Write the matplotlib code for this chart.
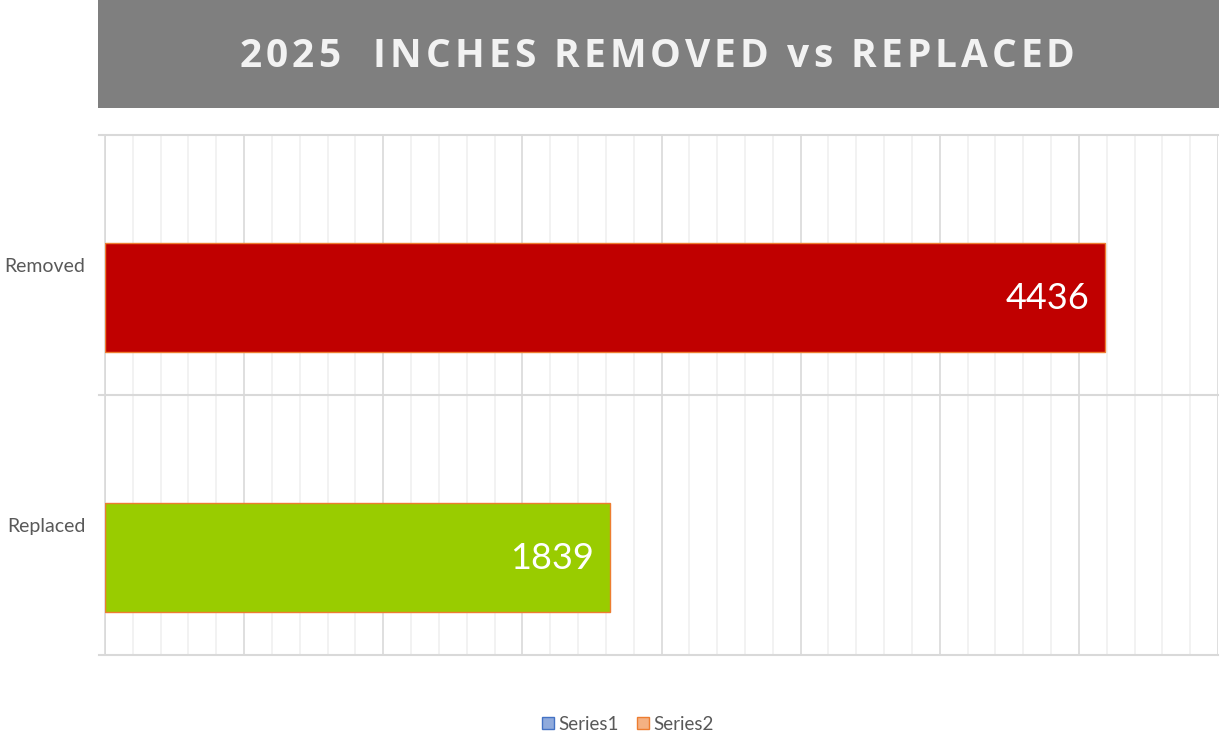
import matplotlib
matplotlib.use("Agg")
import matplotlib.pyplot as plt
from matplotlib.patches import Rectangle
from matplotlib.ticker import MultipleLocator
from matplotlib.font_manager import FontProperties

# 数据（横轴单位：一格主网格）
categories = ["Replaced", "Removed"]
bar_length = [3.63, 7.19]
value_labels = ["1839", "4436"]
bar_colors = ["#99cc00", "#c00000"]
legend_names = ["Series1", "Series2"]

title = "2025  INCHES REMOVED vs REPLACED"

W, H = 1223, 737
fig = plt.figure(figsize=(W / 100, H / 100), dpi=100)
plt.rcParams['font.family'] = ['Lato', 'DejaVu Sans']

# 标题灰色横幅
fig.patches.append(Rectangle((98 / W, 1 - 108 / H), (1219 - 98) / W, 108 / H,
                             transform=fig.transFigure, fc="#7f7f7f", ec="none"))

# 标题字距加宽：逐字放置
renderer = fig.canvas.get_renderer()
tprop = FontProperties(family="Open Sans", weight="bold", size=28)
spacing = 4.1  # 像素
def txt_w(s):
    if not s:
        return 0.0
    w, h, d = renderer.get_text_width_height_descent(s, tprop, ismath=False)
    return w
total = txt_w(title) + (len(title) - 1) * spacing
x0 = 657 - total / 2
for i, ch in enumerate(title):
    if ch == " ":
        continue
    xi = x0 + txt_w(title[:i]) + i * spacing
    fig.text(xi / W, 1 - 52 / H, ch, ha="left", va="center_baseline", color="#f2f2f2",
             fontproperties=tprop)

ax = fig.add_axes([105 / W, 1 - 655 / H, (1218 - 105) / W, (655 - 135) / H])
ax.set_xlim(0, 8)
ax.set_ylim(0, 2)
ax.xaxis.set_major_locator(MultipleLocator(1))
ax.xaxis.set_minor_locator(MultipleLocator(0.2))
ax.grid(axis="x", which="major", color="#d9d9d9", linewidth=1.2)
ax.grid(axis="x", which="minor", color="#f0f0f0", linewidth=1.2)
ax.set_axisbelow(True)
for s in ["top", "right", "bottom"]:
    ax.spines[s].set_visible(False)
ax.spines["left"].set_color("#d9d9d9")
ax.spines["left"].set_linewidth(1.2)
ax.tick_params(axis="x", which="both", length=0, labelbottom=False)

# 类别分隔线
for yv in [0, 1, 2]:
    ax.plot([-0.043, 8], [yv, yv], color="#d9d9d9", linewidth=1.5, clip_on=False, zorder=1)

centers = [0.5, 1.5]
ax.set_yticks(centers)
ax.set_yticklabels(categories, fontsize=14, color="#595959")
ax.tick_params(axis="y", length=0, pad=14)

offset = 32.5 / 260  # 条形相对类别中心下移
bh = 109 / 260
ypos = [c - offset for c in centers]
ax.barh(ypos, bar_length, height=bh, color=bar_colors, edgecolor="#ed7d31",
        linewidth=1.0, zorder=3)

for y, L, lab in zip(ypos, bar_length, value_labels):
    ax.annotate(lab, (L, y), xytext=(-16, -1), textcoords="offset pixels",
                ha="right", va="center", color="white", fontsize=26, zorder=4)

# 图例
handles = [Rectangle((0, 0), 1, 1, fc="#8faadc", ec="#4472c4", lw=1),
           Rectangle((0, 0), 1, 1, fc="#f4b183", ec="#ed7d31", lw=1)]
fig.legend(handles, legend_names, loc="center", bbox_to_anchor=(628 / W, 1 - 724 / H),
           ncol=2, frameon=False, fontsize=13.5, labelcolor="#595959",
           handlelength=0.6, handleheight=0.6, handletextpad=0.25, columnspacing=1.0)

fig.savefig("out.png", dpi=100)
